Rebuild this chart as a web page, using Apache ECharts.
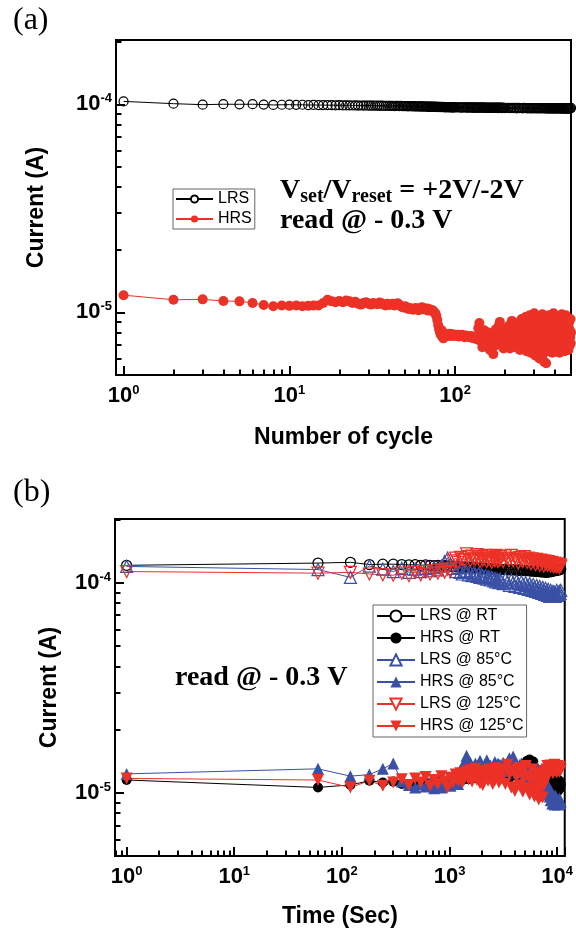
<!DOCTYPE html>
<html><head><meta charset="utf-8">
<script src="https://cdn.jsdelivr.net/npm/echarts@6/dist/echarts.min.js"></script>
<style>html,body{margin:0;padding:0;background:#fff}#c{width:576px;height:930px}</style>
</head><body><div id="c"></div>
<script>
// ---------- Panel (a): endurance ----------
const cyclesLRS = [1,2,3,4,5,6,7,8,9,10,11,12,13,14,15,16,17,18,19,20,21,22,23,24,25,26,27,28,29,30,
31,32,33,34,35,36,37,38,39,40,41,42,43,44,45,46,47,48,49,50,51,52,53,54,55,56,57,58,59,60,
61,62,63,64,65,66,67,68,69,70,71,72,73,74,75,76,77,78,79,80,81,82,83,84,85,86,87,88,89,90,
91,92,93,94,95,96,97,98,99,100,
102,104,106,108,110,112,114,116,118,120,122,124,126,128,130,132,134,136,138,140,
142,144,146,148,150,152,154,156,158,160,162,164,166,168,170,172,174,176,178,180,
182,184,186,188,190,192,194,196,198,200,
205,210,215,220,225,230,235,240,245,250,255,260,265,270,275,280,285,290,295,300,
305,310,315,320,325,330,335,340,345,350,355,360,365,370,375,380,385,390,395,400,
405,410,415,420,425,430,435,440,445,450,455,460,465,470,475,480,485,490,495,500];
const cyclesHRS = [1,2,3,4,5,6,7,8,9,10,11,12,13,14,15,16,17,18,19,20,21,22,23,24,25,26,27,28,29,30,
31,32,33,34,35,36,37,38,39,40,41,42,43,44,45,46,47,48,49,50,51,52,53,54,55,56,57,58,59,60,
61,62,63,64,65,66,67,68,69,70,71,72,73,74,75,76,77,78,79,80,81,82,83,84,85,86,87,88,89,90,
91,92,93,94,95,96,97,98,99,100,
102,104,106,108,110,112,114,116,118,120,122,124,126,128,130,132,134,136,138,140,
142,144,146,148,150,152,154,156,158,160,162,164,166,168,170,172,174,176,178,180,
182,184,186,188,190,192,194,196,198,200,
202,204,206,208,210,212,214,216,218,220,222,224,226,228,230,232,234,236,238,240,
242,244,246,248,250,252,254,256,258,260,262,264,266,268,270,272,274,276,278,280,
282,284,286,288,290,292,294,296,298,300,302,304,306,308,310,312,314,316,318,320,
322,324,326,328,330,332,334,336,338,340,342,344,346,348,350,352,354,356,358,360,
362,364,366,368,370,372,374,376,378,380,382,384,386,388,390,392,394,396,398,400,
402,404,406,408,410,412,414,416,418,420,422,424,426,428,430,432,434,436,438,440,
442,444,446,448,450,452,454,456,458,460,462,464,466,468,470,472,474,476,478,480,
482,484,486,488,490,492,494,496,498,500];
// currents in microampere
const lrsCycle_uA = [103.4,100.8,99.7,100.2,100.1,100.2,99.8,99.4,99.6,99.7,
99.5,99.6,99.3,99.4,99.2,99.3,99.1,99.2,99.0,99.1,
99.0,98.9,99.0,98.8,98.9,98.7,98.8,98.6,98.8,98.7,
98.6,98.7,98.5,98.6,98.4,98.6,98.5,98.3,98.5,98.4,
98.3,98.4,98.2,98.4,98.3,98.1,98.3,98.2,98.0,98.2,
98.1,97.9,98.1,98.0,97.8,98.0,97.9,97.7,97.9,97.8,
97.7,97.9,97.6,97.8,97.7,97.5,97.7,97.6,97.4,97.6,
97.5,97.3,97.6,97.4,97.2,97.5,97.3,97.1,97.4,97.2,
97.0,97.3,97.1,96.9,97.2,97.0,96.8,97.1,96.9,97.0,
96.8,97.1,96.9,96.7,97.0,96.8,96.6,96.9,96.7,96.9,
96.7,96.9,96.6,96.8,96.5,96.9,96.6,96.8,96.5,96.7,
96.4,96.8,96.5,96.7,96.3,96.8,96.5,96.6,96.3,96.7,
96.4,96.6,96.2,96.7,96.4,96.6,96.3,96.5,96.2,96.6,
96.3,96.5,96.1,96.6,96.3,96.4,96.1,96.5,96.2,96.4,
96.0,96.5,96.2,96.4,96.0,96.4,96.1,96.3,95.9,96.3,
96.1,96.3,95.9,96.2,96.0,96.3,95.8,96.2,95.9,96.1,
95.8,96.2,95.9,96.0,95.7,96.1,95.8,96.0,95.7,96.1,
95.8,95.9,95.6,96.0,95.8,95.9,95.6,96.0,95.7,95.9,
95.5,96.0,95.7,95.8,95.5,95.9,95.7,95.8,95.5,95.9,
95.6,95.8,95.4,95.9,95.6,95.7,95.4,95.8,95.6,95.7,
95.4,95.8,95.5,95.7,95.3,95.7,95.5,95.6,95.3,96.3];
const hrsCycle_uA = [12.1,11.5,11.55,11.35,11.3,11.1,10.85,10.7,10.8,10.75,
10.8,10.7,10.75,10.8,10.8,11.1,11.5,11.3,11.2,11.35,
11.2,11.4,11.3,11.1,11.25,11.0,10.9,11.1,11.2,11.0,
10.9,11.1,11.0,10.95,11.15,11.05,10.9,10.8,11.0,10.85,
10.9,11.0,10.8,10.95,11.05,10.9,10.7,10.6,10.55,10.7,
10.6,10.4,10.5,10.35,10.45,10.3,10.4,10.5,10.35,10.25,
10.3,10.45,10.6,10.5,10.35,10.4,10.3,10.45,10.2,10.35,
10.3,10.2,10.25,10.1,10.0,9.9,9.6,9.2,8.7,8.3,
8.0,7.8,8.2,7.6,7.5,7.8,7.9,7.7,7.85,7.75,
7.8,7.7,7.9,7.75,7.8,7.85,7.7,7.8,7.75,7.8,
7.7,7.8,7.65,7.75,7.8,7.7,7.6,7.75,7.7,7.65,
7.6,7.7,7.55,7.65,7.5,7.6,7.55,7.4,8.4,8.9,
7.9,7.2,6.8,7.5,8.2,7.3,6.9,7.6,8.0,7.1,
6.6,7.4,7.8,7.2,6.3,6.9,7.7,8.3,7.5,7.0,
7.6,8.7,9.0,8.2,7.4,7.9,7.1,6.7,7.3,7.8,
8.1,7.4,6.9,7.8,8.6,7.2,6.7,7.5,8.3,9.1,7.6,7.0,8.0,8.8,7.3,6.8,7.9,8.5,7.1,7.7,
8.9,7.4,6.6,8.2,7.8,9.3,7.0,7.6,8.4,6.9,7.3,8.7,9.5,7.2,6.5,8.0,7.7,8.9,7.4,8.2,
9.7,7.1,6.4,8.3,7.6,9.0,6.8,7.9,8.6,9.9,7.3,6.2,8.1,7.5,9.2,6.9,8.4,7.7,9.6,7.0,
6.0,8.5,7.2,9.4,6.6,8.0,7.4,9.8,6.3,8.7,7.1,5.8,8.2,9.3,6.7,7.9,5.7,8.8,7.3,9.0,
6.5,8.4,7.6,9.7,6.9,8.1,7.0,9.2,6.6,8.6,7.8,9.5,6.4,8.3,7.2,9.9,6.8,8.0,7.5,9.1,
6.7,8.8,7.3,9.4,6.5,8.2,7.7,9.6,6.9,8.5,7.1,9.0,6.4,8.7,7.6,9.3,6.8,8.1,7.4,9.8,
6.6,8.4,7.2,9.5,6.9,8.0,7.8,9.2,6.5,8.6,7.3,9.7,6.7,8.3,7.5,9.1,6.8,8.9,7.0,9.4,
6.6,8.5,7.4,9.0,6.9,8.2,7.6,9.3,7.1,8.0];

// ---------- Panel (b): retention ----------
const times = [1,
60,120,180,240,300,360,420,480,540,600,660,720,780,840,900,960,1020,
1080,1140,1200,1260,1320,1380,1440,1500,1560,1620,1680,1740,1800,1860,1920,1980,2040,2100,2160,2220,2280,2340,2400,2460,2520,2580,2640,2700,2760,2820,2880,2940,3000,
3150,3300,3450,3600,3750,3900,4050,4200,4350,4500,4650,4800,4950,5100,5250,5400,5550,5700,5850,6000,6150,6300,6450,6600,6750,6900,
7050,7200,7350,7500,7650,7800,7950,8100,8250,8400,8550,8700,8850,9000,9150,9300,9450,9600,9750,9900,10050,10200,10350,10500,10650,10800];
const lrsRT_uA = [121,
124,125,122,122.5,122.5,122,121.5,122,121,121.5,121,120.5,121,120,120.5,120,119.5,
120,119,119.5,119,118.5,119,118.5,118,118.5,118,118.5,117.5,118,117.5,118,117,117.5,117,117.5,116.5,117,116.5,117,116.5,116,116.5,116,116.5,116,115.5,116,115.5,116,
115.5,116,115.5,115,115.5,115,115.5,114.5,115,114.5,115,114.5,114,114.5,114,114.5,114,113.5,114,113.5,114,113.5,113,113.5,113,113.5,
113,112.5,113,112.5,113,112.5,112,112.5,113,112.5,113,113.5,113,114,113.5,114,114.5,114,115,114.5,115,115.5,115,116,115.5,116];
const hrsRT_uA = [11.5,
10.6,10.9,11.4,11.2,11.3,11.0,10.9,11.1,11.0,11.2,11.0,11.1,11.3,11.2,11.4,11.3,11.5,
11.4,11.6,11.5,11.7,11.5,11.6,11.8,11.6,11.9,11.7,11.8,12.0,11.7,11.9,11.6,11.8,12.1,11.9,11.7,12.0,12.2,11.8,12.1,11.9,12.3,12.0,11.8,12.2,12.4,11.9,12.1,12.3,12.0,
12.2,12.6,12.0,11.8,12.5,13.0,12.4,12.1,12.8,13.3,12.6,13.6,13.2,13.9,14.2,13.7,14.4,13.9,13.5,14.1,13.2,12.5,11.6,10.8,10.1,9.7,
9.6,10.3,10.9,11.5,12.0,12.6,11.9,11.2,10.6,10.4,11.1,11.9,12.5,12.8,12.2,11.5,10.9,11.6,12.1,11.3,10.6,10.2,10.8,11.4,10.5,10.9];
const lrs85_uA = [119.5,
115.5,106,120,116,113,117,112,116,113,117,114,118,115,120,126,131,122,
117,113,118,112,110,114,113,109,112,108,111,110,107,110,106,109,108,105,108,104,107,106,103,106,105,102,105,101,104,103,100,104,102,
99,104,101,97,103,100,96,102,99,95,101,98,94,100,97,93,99,96,92,98,95,91,97,94,90,96,
93,89,95,92,88,94,91,87,93,90,86,92,89,88,91,87,90,86,89,92,87,90,88,91,89,92];
const hrs85_uA = [12.3,
13.0,12.0,12.2,13.0,13.8,11.3,10.9,10.6,11.0,10.7,11.2,10.5,10.9,10.6,11.0,11.4,10.8,
11.2,12.1,11.0,12.8,13.4,13.6,15.0,14.1,13.9,12.6,13.2,13.8,12.9,13.5,14.2,13.1,12.4,12.9,13.7,14.3,13.3,12.8,13.5,12.7,12.2,13.4,14.0,13.1,12.5,13.8,12.9,13.6,12.3,
13.9,12.7,13.4,14.6,13.8,14.9,13.2,12.8,12.5,13.6,13.8,12.9,13.3,11.8,12.4,12.6,13.5,12.8,12.1,11.7,11.4,12.2,12.8,13.1,12.4,11.6,
12.0,12.4,11.5,11.2,10.8,11.4,10.5,10.9,9.8,10.4,9.6,9.2,10.1,8.9,9.5,9.4,8.8,9.7,9.1,8.9,9.3,8.8,9.0,9.4,8.9,9.1];
const lrs125_uA = [113,
111,112,110,109,108.5,111,108,112,109,113,110,114,111,115,112,116,113,
127,131,125,132,129,128,137,133,127,134,130,129,136,131,126,133,128,131,135,126,130,134,128,125,132,129,127,135,130,126,133,128,131,
126,134,130,128,135,127,131,129,124,132,128,126,133,129,125,131,127,123,130,126,128,122,129,125,127,121,
128,124,126,120,127,123,125,121,126,122,124,120,125,121,123,119,124,120,122,119,123,120,121,118,122,120];
const hrs125_uA = [11.7,
11.5,10.6,11.4,10.8,11.2,11.6,10.9,11.7,11.2,11.9,10.8,11.5,11.0,12.0,11.3,10.6,11.8,
11.2,12.2,11.4,12.4,11.2,11.9,12.6,11.6,12.8,11.3,12.1,13.0,11.5,12.4,11.1,12.7,10.9,12.3,11.7,12.5,11.4,12.9,11.8,12.2,11.0,12.6,11.5,13.1,11.9,12.3,11.2,12.8,11.6,
12.9,11.0,13.6,12.2,10.6,12.8,10.2,11.9,13.1,10.8,12.6,10.1,11.7,13.4,10.5,12.0,9.8,11.5,12.9,10.3,9.6,11.2,12.4,10.0,9.3,11.6,
10.5,12.2,9.5,10.8,12.7,11.4,12.9,13.4,12.1,13.2,12.6,13.5,12.8,13.3,12.4,13.0,13.6,12.7,13.2,12.5,13.4,12.9,13.1,12.6,13.3,12.8];

// axis ranges
const xRangeA = [0.9, 500];
const xRangeB = [0.78, 11760];
const yRangeA = [5e-6, 2.04e-4];
const yRangeB = [5e-6, 2.01e-4];

const SANS = 'Liberation Sans';
const SERIF = 'Liberation Serif';
const RED = '#ec3126', BLUE = '#3a50a5', BLACK = '#000000';
const NONE = 'rgba(255,255,255,0)';
const TICK = '#000000';

function pairs(xs, ys) { return xs.map((x, i) => [x, ys[i] * 1e-6]); }
function minorLogTicks(lo, hi) {
  const out = [];
  for (let e = Math.floor(Math.log10(lo)); e <= Math.ceil(Math.log10(hi)); e++) {
    for (let k = 2; k <= 9; k++) {
      const v = k * Math.pow(10, e);
      if (v > lo && v < hi) out.push(Math.log10(v));
    }
  }
  return out;
}
function powLabel(v) {
  const e = Math.log10(v), r = Math.round(e);
  if (Math.abs(e - r) > 1e-6) return '';
  return '{b|10}{e|' + r + '}';
}
const labelRich = {
  b: { fontFamily: SANS, fontWeight: 'bold', fontSize: 22, color: '#000', lineHeight: 24 },
  e: { fontFamily: SANS, fontWeight: 'bold', fontSize: 13, color: '#000', verticalAlign: 'top', lineHeight: 14 }
};
function mainAxis(grid, range, extra) {
  return Object.assign({
    type: 'log', logBase: 10, gridIndex: grid, min: range[0], max: range[1],
    axisLine: { show: true, onZero: false, lineStyle: { color: '#000', width: 2 } },
    axisTick: { show: true, inside: true, length: 9, lineStyle: { color: TICK, width: 2 } },
    axisLabel: { formatter: powLabel, rich: labelRich },
    splitLine: { show: false },
    nameTextStyle: { fontFamily: SANS, fontWeight: 'bold', fontSize: 23, color: '#000' },
    nameLocation: 'middle'
  }, extra);
}
function minorAxis(grid, range, pos) {
  return {
    type: 'value', gridIndex: grid, position: pos,
    min: Math.log10(range[0]), max: Math.log10(range[1]),
    axisLine: { show: false, onZero: false },
    axisLabel: { show: false },
    splitLine: { show: false },
    axisTick: { show: true, inside: true, length: 5.5, customValues: minorLogTicks(range[0], range[1]),
                lineStyle: { color: TICK, width: 2 } }
  };
}
function lineSeries(name, xi, yi, data, color, symbol, size, filled, rotate) {
  return {
    type: 'line', name, xAxisIndex: xi, yAxisIndex: yi, data,
    symbol, symbolSize: size, symbolRotate: rotate || 0,
    showSymbol: true, showAllSymbol: true,
    itemStyle: filled ? { color: color } : { color: NONE, borderColor: color, borderWidth: 1.2 },
    lineStyle: { color: color, width: 1 },
    emphasis: { disabled: true }, silent: true
  };
}

const chart = echarts.init(document.getElementById('c'), null, { renderer: 'canvas' });
chart.setOption({
  animation: false,
  backgroundColor: '#ffffff',
  grid: [
    { left: 116, right: 5, top: 40, height: 335, show: true, borderColor: '#000', borderWidth: 2 },
    { left: 115, right: 4, top: 519, height: 337, show: true, borderColor: '#000', borderWidth: 2 }
  ],
  xAxis: [
    mainAxis(0, xRangeA, { name: 'Number of cycle', nameGap: 51, position: 'bottom', axisLabel: { formatter: powLabel, rich: labelRich, margin: 9 } }),
    minorAxis(0, xRangeA, 'bottom'),
    mainAxis(1, xRangeB, { name: 'Time (Sec)', nameGap: 49, position: 'bottom', axisLabel: { formatter: powLabel, rich: labelRich, margin: 9 } }),
    minorAxis(1, xRangeB, 'bottom')
  ],
  yAxis: [
    mainAxis(0, yRangeA, { name: 'Current (A)', nameGap: 68, nameRotate: 90, position: 'left', axisLabel: { formatter: powLabel, rich: labelRich, margin: 4 } }),
    minorAxis(0, yRangeA, 'left'),
    mainAxis(1, yRangeB, { name: 'Current (A)', nameGap: 54, nameRotate: 90, position: 'left', axisLabel: { formatter: powLabel, rich: labelRich, margin: 4 } }),
    minorAxis(1, yRangeB, 'left')
  ],
  legend: [
    { orient: 'vertical', left: 173, top: 189, padding: [2, 3, 2, 2], itemGap: 4, itemWidth: 37, itemHeight: 9,
      borderColor: '#666', borderWidth: 1, selectedMode: false,
      textStyle: { fontFamily: SANS, fontSize: 16, color: '#000' },
      data: [{ name: 'LRS', itemStyle: { color: '#fff' } }, { name: 'HRS' }] },
    { orient: 'vertical', left: 373, top: 605, padding: [3, 3, 3, 3], itemGap: 6, itemWidth: 38, itemHeight: 14,
      borderColor: '#666', borderWidth: 1, selectedMode: false,
      textStyle: { fontFamily: SANS, fontSize: 16, color: '#000' },
      data: [{ name: 'LRS @ RT', itemStyle: { color: '#fff' } }, { name: 'HRS @ RT' },
             { name: 'LRS @ 85°C', itemStyle: { color: '#fff' } }, { name: 'HRS @ 85°C' },
             { name: 'LRS @ 125°C', itemStyle: { color: '#fff' } }, { name: 'HRS @ 125°C' }] }
  ],
  graphic: [
    { type: 'text', left: 13, top: 5, style: { text: '(a)', fontFamily: SERIF, fontSize: 32, fill: '#000' } },
    { type: 'text', left: 13, top: 477, style: { text: '(b)', fontFamily: SERIF, fontSize: 32, fill: '#000' } },
    { type: 'text', left: 280, top: 174, style: {
        text: '{m|V}{s|set}{m|/V}{s|reset}{m| = +2V/-2V}',
        rich: {
          m: { fontFamily: SERIF, fontWeight: 'bold', fontSize: 28, lineHeight: 30, verticalAlign: 'top', fill: '#000' },
          s: { fontFamily: SERIF, fontWeight: 'bold', fontSize: 20, lineHeight: 20, padding: [13, 0, 0, 0], verticalAlign: 'bottom', fill: '#000' }
        } } },
    { type: 'text', left: 280, top: 206, style: { text: 'read @ - 0.3 V', fontFamily: SERIF, fontWeight: 'bold', fontSize: 28, lineHeight: 30, fill: '#000' } },
    { type: 'text', left: 175, top: 663, style: { text: 'read @ - 0.3 V', fontFamily: SERIF, fontWeight: 'bold', fontSize: 28, lineHeight: 30, fill: '#000' } }
  ],
  series: [
    lineSeries('LRS', 0, 0, pairs(cyclesLRS, lrsCycle_uA), BLACK, 'circle', 9, false),
    lineSeries('HRS', 0, 0, pairs(cyclesHRS, hrsCycle_uA), RED, 'circle', 10, true),
    lineSeries('LRS @ RT', 2, 2, pairs(times, lrsRT_uA), BLACK, 'circle', 10, false),
    lineSeries('HRS @ RT', 2, 2, pairs(times, hrsRT_uA), BLACK, 'circle', 10, true),
    lineSeries('LRS @ 85°C', 2, 2, pairs(times, lrs85_uA), BLUE, 'triangle', 12, false),
    lineSeries('HRS @ 85°C', 2, 2, pairs(times, hrs85_uA), BLUE, 'triangle', 12, true),
    lineSeries('LRS @ 125°C', 2, 2, pairs(times, lrs125_uA), RED, 'triangle', 12, false, 180),
    lineSeries('HRS @ 125°C', 2, 2, pairs(times, hrs125_uA), RED, 'triangle', 12, true, 180)
  ]
});
</script>
</body></html>
